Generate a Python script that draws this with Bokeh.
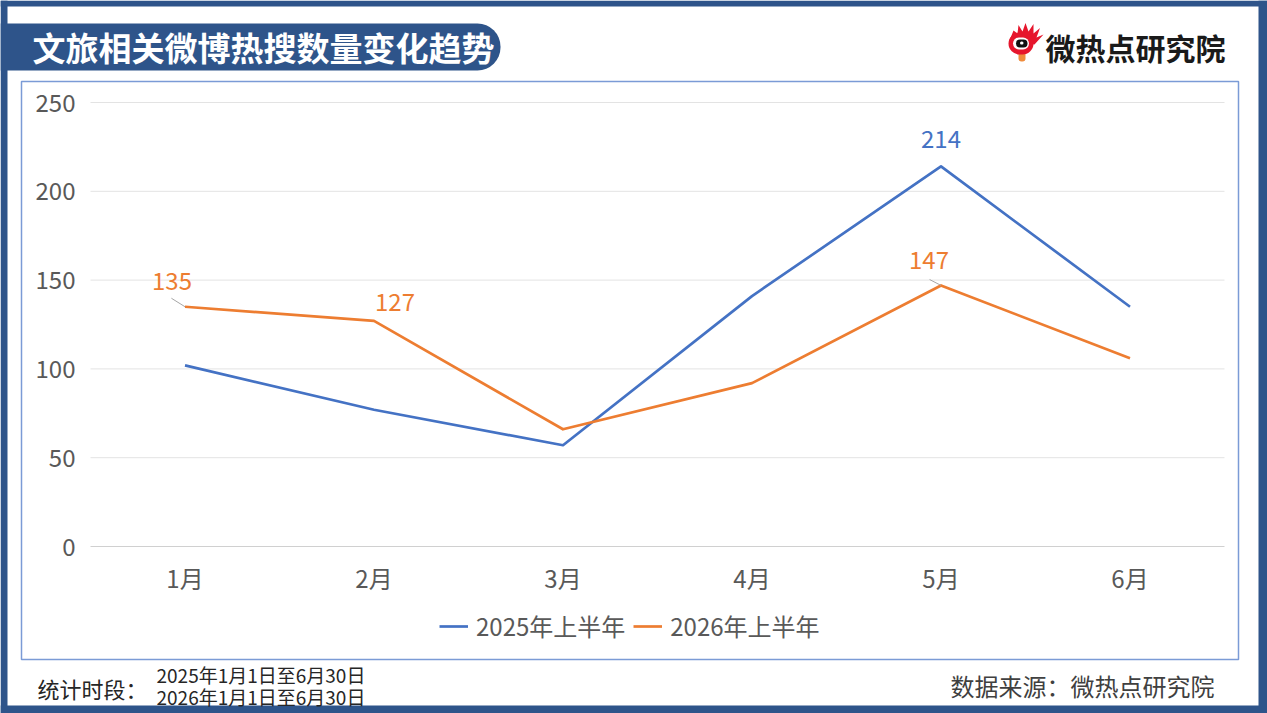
from bokeh.plotting import figure
from bokeh.models import (ColumnDataSource, Range1d, Legend, LegendItem, LinearAxis,
                          LabelSet, Label, BoxAnnotation, PolyAnnotation, FixedTicker)
from bokeh.core.properties import value
from bokeh.embed import file_html
from bokeh.resources import INLINE

# ---------------- data ----------------
months = ["1月", "2月", "3月", "4月", "5月", "6月"]
series_names = ["2025年上半年", "2026年上半年"]
values_2025 = [102, 77, 57, 141, 214, 135]
values_2026 = [135, 127, 66, 92, 147, 106]
y_ticks = [0, 50, 100, 150, 200, 250]
title_text = "文旅相关微博热搜数量变化趋势"
brand_text = "微热点研究院"
period_label = "统计时段："
period_lines = ["2025年1月1日至6月30日", "2026年1月1日至6月30日"]
source_text = "数据来源：微热点研究院"
labels_2025_idx = [4]
labels_2026_idx = [0, 1, 4]

# ---------------- style / layout ----------------
FONT = "Noto Sans CJK SC"
NAVY = "#2E548A"
BLUE = "#4472C4"
ORANGE = "#ED7D31"
GRAY_TXT = "#595959"
W, H = 1267, 713
PL, PR, PT, PB = 90, 1224, 102, 546          # plot region in page pixels
px_per_cat = (PR - PL) / len(months)
px_per_unit = (PB - PT) / (y_ticks[-1] - y_ticks[0])

# value-label offsets (px): (series, index) -> (dx, dy, leader (dx, dy) or None)
label_style = {
    ("2026", 0): (-13, 26, (-13.6, 8.5)),
    ("2026", 1): (21, 19, None),
    ("2026", 4): (-12, 25, (-11.4, 5.9)),
    ("2025", 4): (0, 27, None),
}


def sx(X):
    return X


def sy(Y):
    return H - Y


x_pos = [i + 0.5 for i in range(len(months))]

p = figure(width=W, height=H,
           x_range=Range1d(-PL / px_per_cat, (W - PL) / px_per_cat),
           y_range=Range1d(-(H - PB) / px_per_unit, PB / px_per_unit),
           x_axis_type=None, y_axis_type=None,
           output_backend="svg", toolbar_location=None,
           min_border=0, min_border_left=0, min_border_right=0,
           min_border_top=0, min_border_bottom=0,
           background_fill_color="white", border_fill_color="white",
           outline_line_color=None)
p.xgrid.visible = False
p.ygrid.visible = False


def box(X0, X1, Y0, Y1, **kw):
    return BoxAnnotation(left=sx(X0), right=sx(X1), bottom=sy(Y1), top=sy(Y0),
                         left_units="screen", right_units="screen",
                         top_units="screen", bottom_units="screen", **kw)


# ---------------- decorations ----------------
for b in [(0, 7, 0, H), (1258, W, 0, H), (0, W, 0, 6), (0, W, 705, H)]:
    p.add_layout(box(*b, fill_color=NAVY, fill_alpha=1, line_color=None))
p.add_layout(box(21, 1238, 81, 659, fill_alpha=0, line_color="#7B9BD6",
                 line_alpha=1, line_width=1.5))
p.add_layout(box(0, 500, 23, 70, fill_color=NAVY, fill_alpha=1, line_color=None,
                 border_radius=(0, 23, 23, 0)))
p.add_layout(Label(x=sx(32), y=sy(46.5), x_units="screen", y_units="screen",
                   text=title_text, text_font=FONT, text_font_style="bold",
                   text_font_size="33px", text_color="white",
                   text_align="left", text_baseline="middle"))

# brand logo (drawn eye)
flame_X = [1009, 1013, 1017, 1018, 1022, 1025, 1028, 1033, 1033, 1039.5, 1036, 1043, 1034, 1021]
flame_Y = [40, 30, 33, 24.5, 31, 22.5, 31, 23.5, 33, 27.5, 37, 34, 44, 43]
p.add_layout(PolyAnnotation(xs=[sx(v) for v in flame_X], ys=[sy(v) for v in flame_Y],
                            xs_units="screen", ys_units="screen",
                            fill_color="#E6162D", fill_alpha=1, line_color=None))
for X0, X1, Y0, Y1, col, r in [(1018, 1025, 50, 61, "#F08C3C", 3),
                               (1008, 1033, 32, 54, "#E6162D", 11),
                               (1012.5, 1028.5, 37, 49, "white", 6),
                               (1015.5, 1027, 39, 47, "#111111", 4),
                               (1019.5, 1023, 41, 44, "white", 2)]:
    p.add_layout(box(X0, X1, Y0, Y1, fill_color=col, fill_alpha=1, line_color=None,
                     border_radius=r))
p.add_layout(Label(x=sx(1045), y=sy(46.5), x_units="screen", y_units="screen",
                   text=brand_text, text_font=FONT, text_font_style="bold",
                   text_font_size="30px", text_color="#1A1A1A",
                   text_align="left", text_baseline="middle"))

# footer
p.add_layout(Label(x=sx(37), y=sy(687.5), x_units="screen", y_units="screen",
                   text=period_label, text_font=FONT, text_font_size="22px",
                   text_color="#262626", text_align="left", text_baseline="middle"))
for txt, Y in zip(period_lines, [674, 696]):
    p.add_layout(Label(x=sx(156), y=sy(Y), x_units="screen", y_units="screen",
                       text=txt, text_font=FONT, text_font_size="19px",
                       text_color="#262626", text_align="left", text_baseline="middle"))
p.add_layout(Label(x=sx(1214), y=sy(684.5), x_units="screen", y_units="screen",
                   text=source_text, text_font=FONT, text_font_size="24px",
                   text_color="#404040", text_align="right", text_baseline="middle"))

# ---------------- chart ----------------
# horizontal gridlines
p.segment(x0=0, x1=len(months), y0=y_ticks[1:], y1=y_ticks[1:],
          line_color="#E3E3E3", line_width=1)

src = ColumnDataSource(dict(x=x_pos, v2025=values_2025, v2026=values_2026))
r1 = p.line(x="x", y="v2025", source=src, line_color=BLUE, line_width=2.7,
            line_join="round")
r2 = p.line(x="x", y="v2026", source=src, line_color=ORANGE, line_width=2.7,
            line_join="round")

lab = dict(x=[], v=[], t=[], dx=[], dy=[], c=[])
lead = dict(x0=[], y0=[], x1=[], y1=[])
for key, vals, idxs, col in [("2025", values_2025, labels_2025_idx, BLUE),
                             ("2026", values_2026, labels_2026_idx, ORANGE)]:
    for i in idxs:
        dx, dy, leader = label_style[(key, i)]
        lab["x"].append(x_pos[i]); lab["v"].append(vals[i]); lab["t"].append(str(vals[i]))
        lab["dx"].append(dx); lab["dy"].append(dy); lab["c"].append(col)
        if leader:
            lead["x0"].append(x_pos[i] + leader[0] / px_per_cat)
            lead["y0"].append(vals[i] + leader[1] / px_per_unit)
            lead["x1"].append(x_pos[i]); lead["y1"].append(vals[i])
p.segment(x0="x0", y0="y0", x1="x1", y1="y1", source=ColumnDataSource(lead),
          line_color="#A6A6A6", line_width=1)
p.add_layout(LabelSet(x="x", y="v", text="t", x_offset="dx", y_offset="dy",
                      source=ColumnDataSource(lab), text_color="c",
                      text_font=value(FONT), text_font_size="24px",
                      text_align="center", text_baseline="middle"))

# axes (fixed inside the frame at the plot origin)
yaxis = LinearAxis(ticker=FixedTicker(ticks=y_ticks), fixed_location=0,
                   axis_line_color=None, major_tick_line_color=None,
                   minor_tick_line_color=None, major_tick_out=0, major_tick_in=0,
                   major_label_standoff=15)
xaxis = LinearAxis(ticker=FixedTicker(ticks=x_pos), fixed_location=0,
                   bounds=(0, len(months)),
                   major_label_overrides={xp: m for xp, m in zip(x_pos, months)},
                   axis_line_color="#D0D0D0", axis_line_width=1,
                   major_tick_line_color=None, minor_tick_line_color=None,
                   major_tick_out=0, major_tick_in=0, major_label_standoff=13)
for ax in (xaxis, yaxis):
    ax.major_label_text_font = FONT
    ax.major_label_text_font_size = "24px"
    ax.major_label_text_color = GRAY_TXT
p.add_layout(yaxis, "left")
p.add_layout(xaxis, "below")

legend = Legend(items=[LegendItem(label=series_names[0], renderers=[r1]),
                       LegendItem(label=series_names[1], renderers=[r2])],
                orientation="horizontal", location=(sx(439), sy(643)),
                padding=0, margin=0, spacing=8, label_standoff=8,
                glyph_width=29, glyph_height=20,
                label_text_font=FONT, label_text_font_size="24px",
                label_text_color=GRAY_TXT, border_line_color=None,
                background_fill_alpha=0)
p.add_layout(legend)

open("out.html", "w").write(file_html(p, INLINE))
